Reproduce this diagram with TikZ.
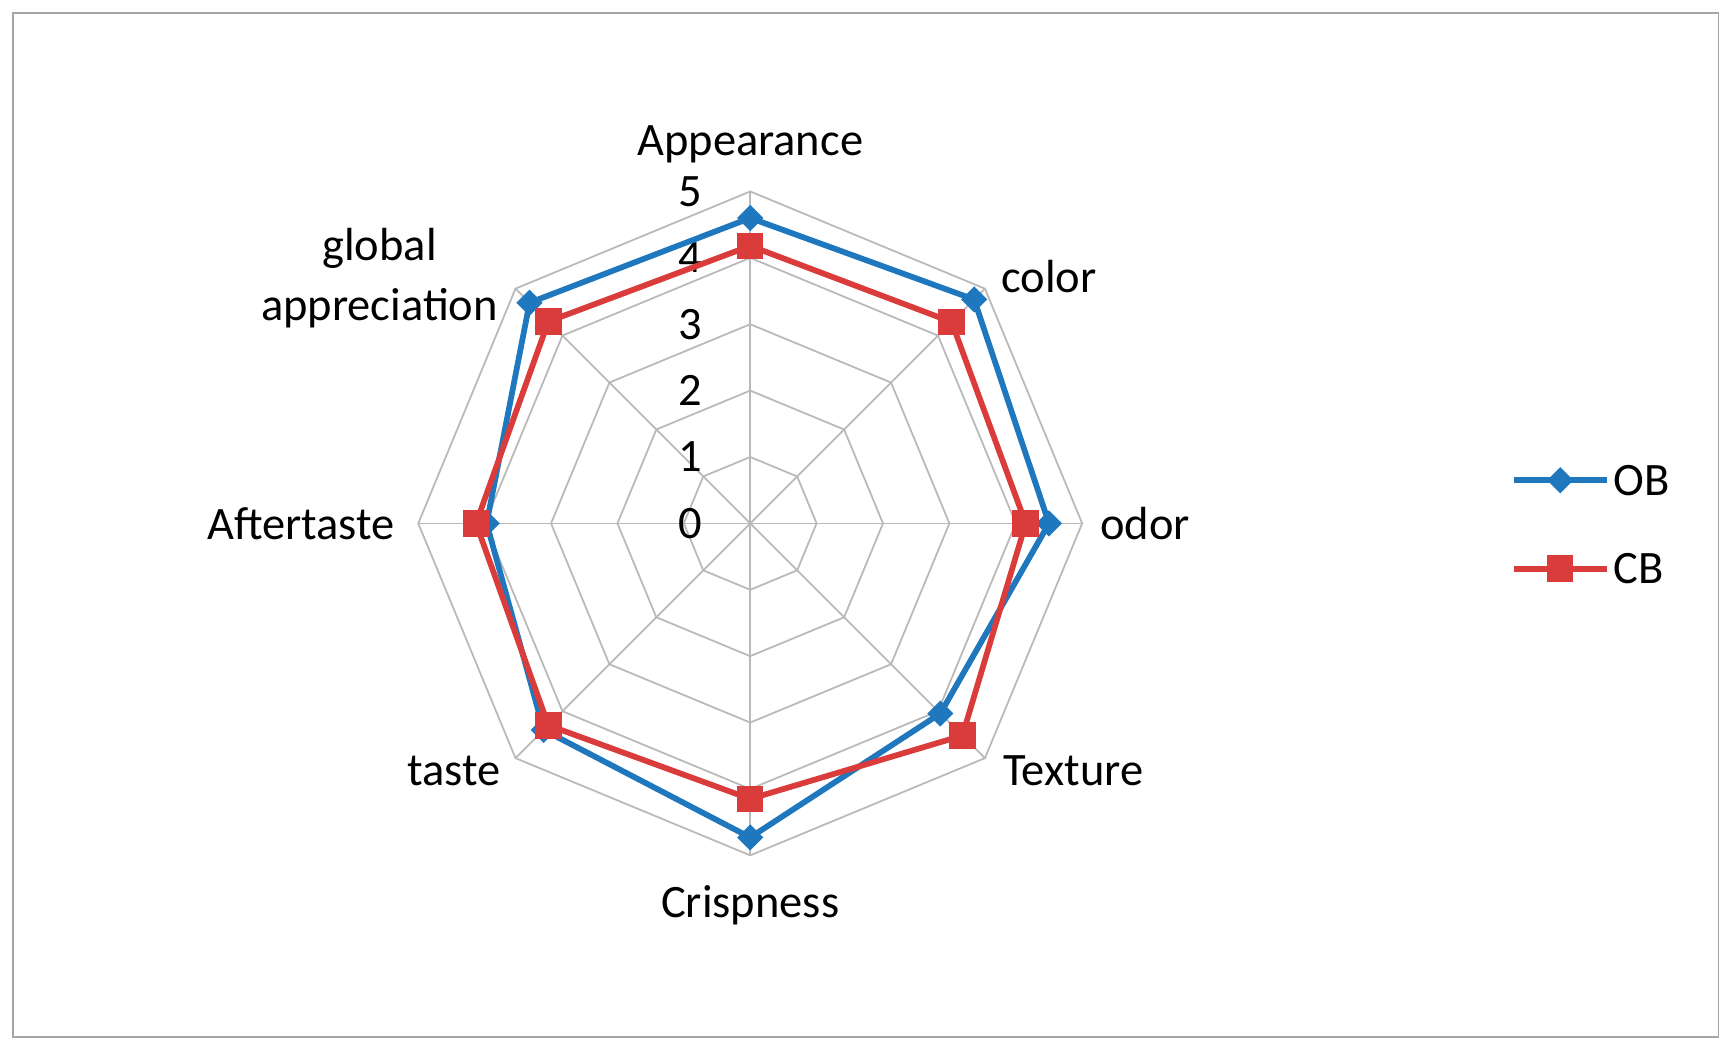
\documentclass[tikz,border=0pt]{standalone}
\usepackage{fontspec}
\setmainfont{Carlito}
\usetikzlibrary{shapes.geometric}
\definecolor{obc}{RGB}{31,119,190}
\definecolor{cbc}{RGB}{218,60,60}
\begin{document}
\begin{tikzpicture}[x=0.5pt,y=-0.5pt,
  lab/.style={font=\fontsize{21}{23}\selectfont,inner sep=1pt},
  grid/.style={draw=gray!55,line width=0.8pt},
  obline/.style={draw=obc,line width=2.6pt},
  cbline/.style={draw=cbc,line width=2.6pt},
  obmark/.style={diamond,fill=obc,minimum width=12pt,minimum height=12pt,inner sep=0pt},
  cbmark/.style={rectangle,fill=cbc,minimum size=12pt,inner sep=0pt}]
\useasboundingbox (0,0) rectangle (1568,950);
\draw[gray!70,line width=0.8pt] (12,12) rectangle (1553,937);
\begin{scope}[shift={(678,473)},x=30pt,y=30pt]
  \foreach \r in {1,...,5}
    \draw[grid] (90:\r) \foreach \a in {45,0,-45,-90,-135,180,135}{ -- (\a:\r)} -- cycle;
  \foreach \a in {90,45,0,-45,-90,-135,180,135} \draw[grid] (0,0) -- (\a:5);
  \foreach \k in {0,...,5} \node[lab] (t\k) at (-0.9,\k) {\k};
  \foreach \n/\a/\o/\c in {1/90/4.6/4.18, 2/45/4.77/4.29, 3/0/4.5/4.15, 4/-45/4.05/4.52,
                         5/-90/4.73/4.15, 6/-135/4.4/4.3, 7/180/3.97/4.13, 8/135/4.7/4.3}{
    \coordinate (o\n) at (\a:\o);
    \coordinate (c\n) at (\a:\c);
  }
  \draw[obline,line join=round] (o1)--(o2)--(o3)--(o4)--(o5)--(o6)--(o7)--(o8)--cycle;
  \foreach \n in {1,...,8} \node[obmark] (om\n) at (o\n) {};
  \draw[cbline,line join=round] (c1)--(c2)--(c3)--(c4)--(c5)--(c6)--(c7)--(c8)--cycle;
  \foreach \n in {1,...,8} \node[cbmark] (cm\n) at (c\n) {};
\end{scope}
\node[lab] (l1) at (678,130) {Appearance};
\node[lab] (l2) at (948,250) {color};
\node[lab] (l3) at (1035,473) {odor};
\node[lab] (l4) at (970,697) {Texture};
\node[lab] (l5) at (678,818) {Crispness};
\node[lab] (l6) at (410,697) {taste};
\node[lab] (l7) at (272,473) {Aftertaste};
\node[lab,align=center] (l8) at (343,251) {global\\[4pt]appreciation};
\coordinate (ls1) at (1368,434); \coordinate (le1) at (1452,434);
\coordinate (ls2) at (1368,514); \coordinate (le2) at (1452,514);
\draw[obline] (ls1) -- (le1);
\node[obmark] (lm1) at (1410,434) {};
\node[lab,anchor=west] (lt1) at (1456,434) {OB};
\draw[cbline] (ls2) -- (le2);
\node[cbmark] (lm2) at (1410,514) {};
\node[lab,anchor=west] (lt2) at (1456,514) {CB};
\end{tikzpicture}
\end{document}
